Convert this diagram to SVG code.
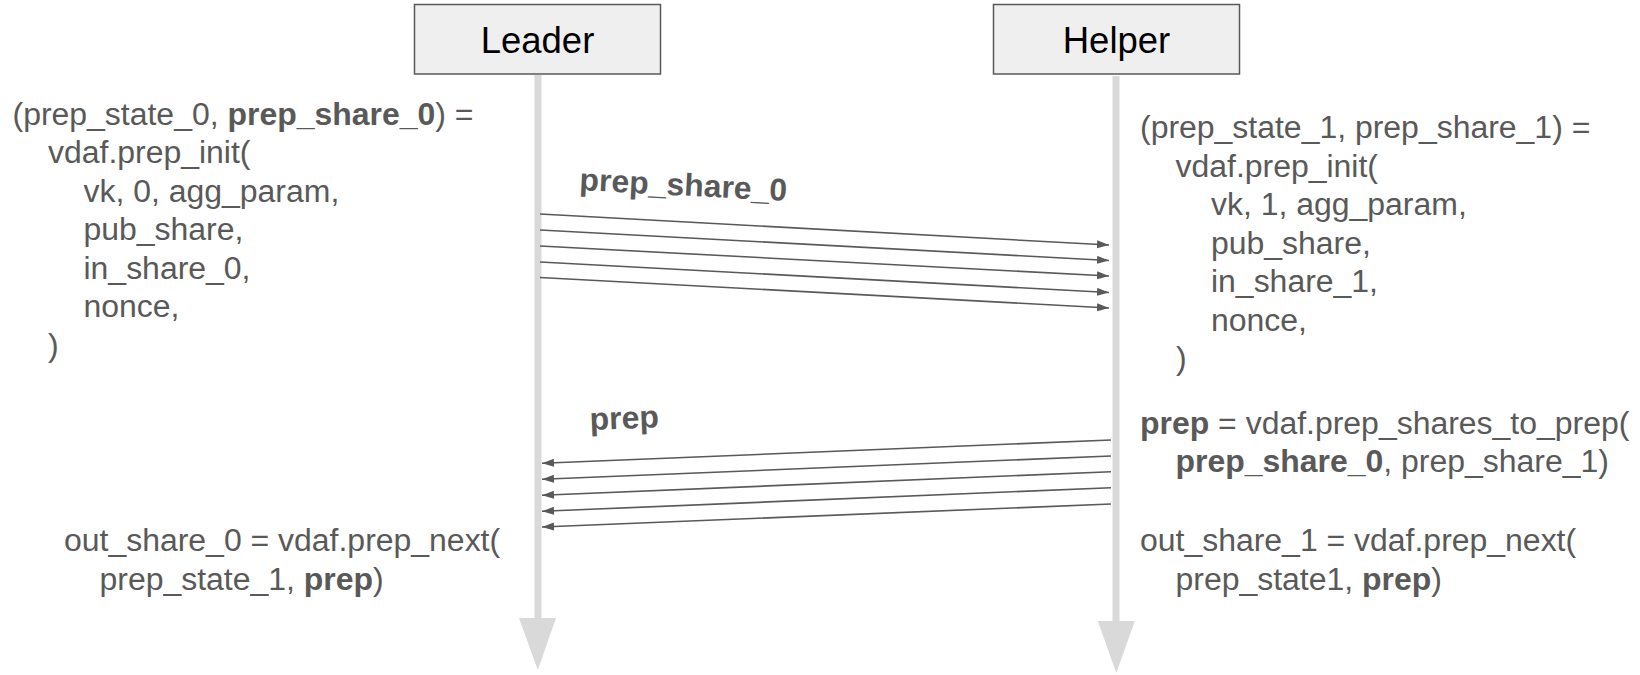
<svg xmlns="http://www.w3.org/2000/svg" width="1640" height="675" viewBox="0 0 1640 675">
<style>
.box{fill:#efefef;stroke:#595959;stroke-width:1.5}
.head{font-family:"Liberation Sans",Arial,sans-serif;font-size:36.5px;fill:#000;text-anchor:middle}
.t{font-family:"Liberation Sans",Arial,sans-serif;font-size:31.5px;fill:#595959}
.b{font-weight:bold}
.life{fill:#d9d9d9}
.msg{stroke:#595959;stroke-width:1.6;fill:none;marker-end:url(#ah)}
</style>
<defs>
<marker id="ah" markerUnits="userSpaceOnUse" markerWidth="13" markerHeight="9" refX="12" refY="4" orient="auto">
<path d="M0,0 L12,4 L0,8 z" fill="#595959"/>
</marker>
</defs>
<rect width="1640" height="675" fill="#fff"/>
<g id="leader">
<rect class="life" x="534.5" y="75" width="7" height="545"/>
<polygon class="life" points="519,618 556,618 537.8,670"/>
<rect class="box" x="414.5" y="4.5" width="246" height="69.5"/>
<text class="head" x="537.5" y="52.5">Leader</text>
</g>
<g id="helper">
<rect class="life" x="1112.5" y="76" width="7" height="547"/>
<polygon class="life" points="1097.8,621 1134.8,621 1116.3,673"/>
<rect class="box" x="993.5" y="4.5" width="246" height="69.5"/>
<text class="head" x="1116.5" y="52.5">Helper</text>
</g>
<g id="leader-init">
<text class="t" transform="translate(12.5,124.5) scale(1.015,1)">(prep_state_0, <tspan class="b">prep_share_0</tspan>) =</text>
<text class="t" transform="translate(48,163) scale(1.015,1)">vdaf.prep_init(</text>
<text class="t" transform="translate(83.5,201.5) scale(1.015,1)">vk, 0, agg_param,</text>
<text class="t" transform="translate(83.5,240) scale(1.015,1)">pub_share,</text>
<text class="t" transform="translate(83.5,278.5) scale(1.015,1)">in_share_0,</text>
<text class="t" transform="translate(83.5,317) scale(1.015,1)">nonce,</text>
<text class="t" transform="translate(48,355.5) scale(1.015,1)">)</text>
</g>
<g id="helper-init">
<text class="t" transform="translate(1140,138) scale(1.015,1)">(prep_state_1, prep_share_1) =</text>
<text class="t" transform="translate(1175.5,176.5) scale(1.015,1)">vdaf.prep_init(</text>
<text class="t" transform="translate(1211,215) scale(1.015,1)">vk, 1, agg_param,</text>
<text class="t" transform="translate(1211,253.5) scale(1.015,1)">pub_share,</text>
<text class="t" transform="translate(1211,292) scale(1.015,1)">in_share_1,</text>
<text class="t" transform="translate(1211,330.5) scale(1.015,1)">nonce,</text>
<text class="t" transform="translate(1176,369) scale(1.015,1)">)</text>
</g>
<g id="helper-combine">
<text class="t" transform="translate(1140,433.5) scale(1.015,1)"><tspan class="b">prep</tspan> = vdaf.prep_shares_to_prep(</text>
<text class="t" transform="translate(1175.5,472) scale(1.015,1)"><tspan class="b">prep_share_0</tspan>, prep_share_1)</text>
</g>
<g id="helper-next">
<text class="t" transform="translate(1140,551) scale(1.015,1)">out_share_1 = vdaf.prep_next(</text>
<text class="t" transform="translate(1175.5,589.5) scale(1.015,1)">prep_state1, <tspan class="b">prep</tspan>)</text>
</g>
<g id="leader-next">
<text class="t" transform="translate(64,551) scale(1.015,1)">out_share_0 = vdaf.prep_next(</text>
<text class="t" transform="translate(99.5,589.5) scale(1.015,1)">prep_state_1, <tspan class="b">prep</tspan>)</text>
</g>
<g id="connectors">
<line class="msg" x1="540" y1="214" x2="1109" y2="245"/>
<line class="msg" x1="540" y1="230" x2="1109" y2="260.5"/>
<line class="msg" x1="540" y1="246" x2="1109" y2="276"/>
<line class="msg" x1="540" y1="262" x2="1109" y2="292.5"/>
<line class="msg" x1="540" y1="277.5" x2="1109" y2="308"/>
<line class="msg" x1="1111" y1="440" x2="542" y2="463.3"/>
<line class="msg" x1="1111" y1="456" x2="542" y2="479.3"/>
<line class="msg" x1="1111" y1="471.7" x2="542" y2="495.3"/>
<line class="msg" x1="1111" y1="487.7" x2="542" y2="511.3"/>
<line class="msg" x1="1111" y1="504" x2="542" y2="527"/>
<text class="t b" transform="translate(579,190) rotate(3.05) scale(1.015,1)">prep_share_0</text>
<text class="t b" transform="translate(590,430) rotate(-2.3) scale(1.015,1)">prep</text>
</g>
</svg>
